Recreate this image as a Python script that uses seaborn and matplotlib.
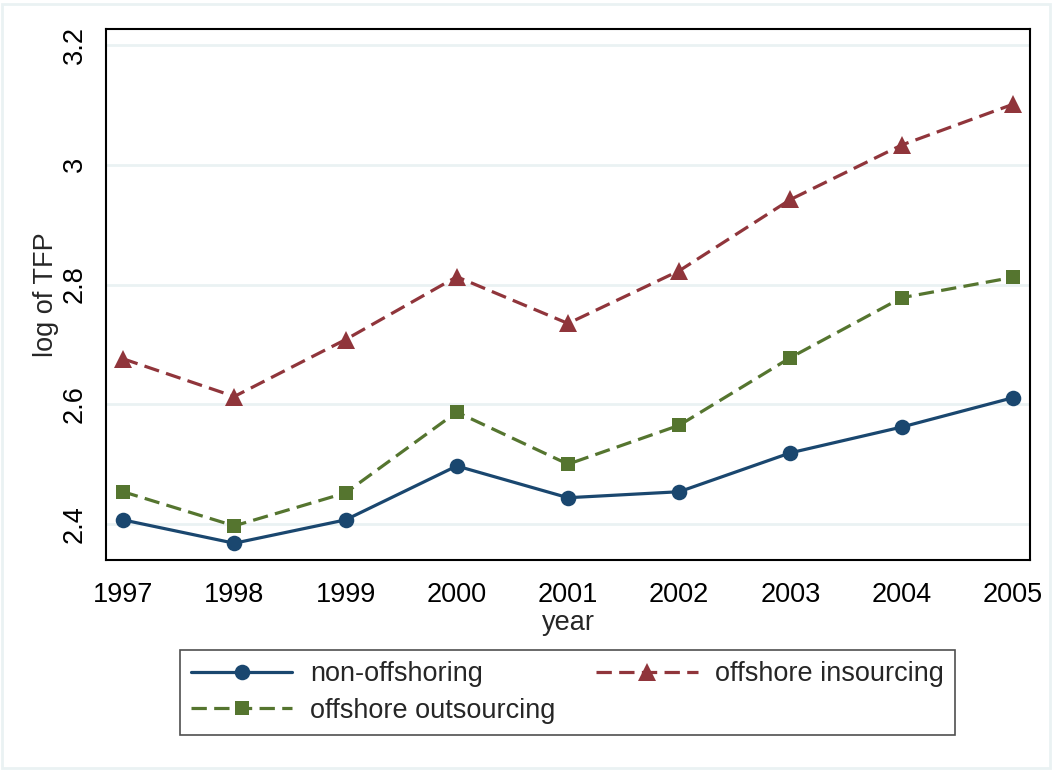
import matplotlib
matplotlib.use("Agg")
import matplotlib.pyplot as plt
import matplotlib.patches as mpatches
from matplotlib.lines import Line2D
import seaborn as sns
import pandas as pd

years = [1997, 1998, 1999, 2000, 2001, 2002, 2003, 2004, 2005]
non_offshoring = [2.407, 2.368, 2.407, 2.497, 2.444, 2.454, 2.519, 2.562, 2.611]
offshore_insourcing = [2.676, 2.613, 2.708, 2.813, 2.735, 2.823, 2.942, 3.033, 3.101]
offshore_outsourcing = [2.454, 2.397, 2.452, 2.587, 2.500, 2.565, 2.678, 2.778, 2.812]
series_names = ["non-offshoring", "offshore insourcing", "offshore outsourcing"]
y_ticks = [2.4, 2.6, 2.8, 3.0, 3.2]
y_tick_labels = ["2.4", "2.6", "2.8", "3", "3.2"]

rows = []
for name, vals in zip(series_names, [non_offshoring, offshore_insourcing, offshore_outsourcing]):
    for yr, v in zip(years, vals):
        rows.append({"year": yr, "tfp": v, "series": name})
df = pd.DataFrame(rows)

sns.set_theme(style="white")
plt.rcParams["font.family"] = ["Liberation Sans", "DejaVu Sans"]

FS = 19.5
LW = 2.3
DASH = (4.8, 2.3)
colors = {"non-offshoring": "#1a476f", "offshore insourcing": "#90353b",
          "offshore outsourcing": "#55752f"}
markers = {"non-offshoring": "o", "offshore insourcing": "^", "offshore outsourcing": "s"}
msizes = {"o": 11.2, "^": 13.2, "s": 10.6}
dashes = {"non-offshoring": "", "offshore insourcing": DASH, "offshore outsourcing": DASH}

fig = plt.figure(figsize=(10.57, 7.71), dpi=100)
fig.patch.set_facecolor("white")
ax = fig.add_axes([106 / 1057, 1 - 560 / 771, 924 / 1057, 531 / 771])

sns.lineplot(data=df, x="year", y="tfp", hue="series", style="series",
             hue_order=series_names, style_order=series_names,
             palette=colors, markers=markers, dashes=dashes,
             linewidth=LW, markeredgewidth=0, ax=ax, legend=False)

for line in ax.get_lines():
    m = line.get_marker()
    if m in msizes:
        line.set_markersize(msizes[m])
        line.set_markeredgewidth(0)

ax.set_xlim(1996.847, 2005.153)
ax.set_ylim(2.34, 3.2267)
ax.set_xticks(years)
ax.set_xticklabels([str(y) for y in years])
ax.set_yticks(y_ticks)
ax.set_yticklabels(y_tick_labels, rotation=90, va="center")
ax.grid(axis="y", color="#eaf2f3", linewidth=2.0)
ax.grid(axis="x", visible=False)
ax.set_axisbelow(True)
for s in ax.spines.values():
    s.set_color("black")
    s.set_linewidth(1.5)
ax.tick_params(axis="both", direction="out", length=8, width=1.1, color="#333333",
               labelsize=FS, labelcolor="black")
ax.tick_params(axis="x", pad=8)
ax.tick_params(axis="y", pad=5)
ax.set_xlabel("year", fontsize=FS, labelpad=1)
ax.set_ylabel("log of TFP", fontsize=FS, labelpad=2)

handles = {}
for name in series_names:
    handles[name] = Line2D([], [], color=colors[name], marker=markers[name],
                           linestyle="-" if name == "non-offshoring" else (0, DASH),
                           linewidth=LW, markersize=msizes[markers[name]],
                           markeredgewidth=0)
order = ["non-offshoring", "offshore outsourcing", "offshore insourcing"]
leg = fig.legend([handles[n] for n in order], order, ncol=2,
                 loc="center", bbox_to_anchor=((182 + 953) / 2 / 1057, 1 - 692.5 / 771),
                 fontsize=FS, frameon=True, fancybox=False, edgecolor="#222222",
                 handlelength=3.75, handletextpad=0.65, columnspacing=1.5,
                 labelspacing=0.4, borderpad=0.4, borderaxespad=0)
leg.get_frame().set_linewidth(1.2)

fig.patches.append(mpatches.Rectangle((2 / 1057, 3 / 771), 1048 / 1057, 764 / 771,
                                      transform=fig.transFigure, fill=False,
                                      edgecolor="#eaf2f3", linewidth=2))

fig.savefig("out.png", dpi=100, facecolor="white")
